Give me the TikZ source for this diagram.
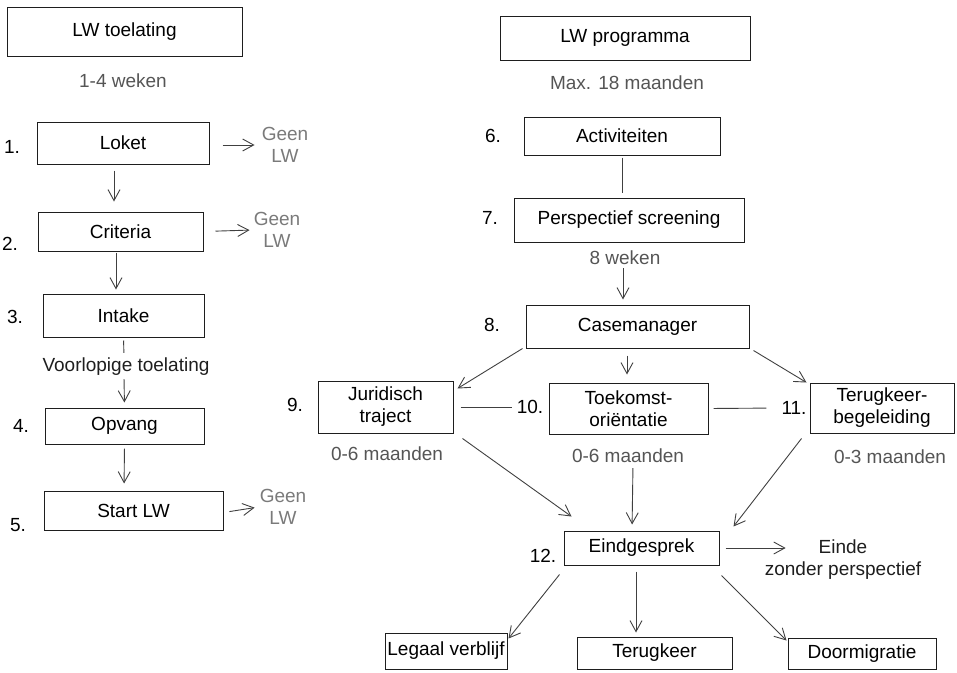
\documentclass[tikz,border=0pt]{standalone}
\usepackage{fontspec}
\setmainfont{Liberation Sans}
\usetikzlibrary{arrows.meta}
\usepackage{xcolor}
\definecolor{ink}{HTML}{1E1E1E}
\definecolor{inkgrey}{HTML}{555555}
\definecolor{lightgrey}{HTML}{7A7A7A}

\begin{document}
\begin{tikzpicture}[x=1pt, y=-1pt,
		font=\fontsize{19}{22}\selectfont,
		box/.style={rectangle, draw=ink, line width=1pt, inner sep=0pt, align=center},
		greytext/.style={text=inkgrey, align=center, inner sep=1pt},
		faint/.style={text=lightgrey, align=center, inner sep=1pt},
		plain/.style={text=ink, align=center, inner sep=1pt},
		stepnum/.style={text=black, inner sep=1pt},
		arr/.style={draw=ink!85, line width=0.9pt, -{Straight Barb[length=11pt, width=12pt]}},
		tie/.style={draw=ink!85, line width=0.9pt}]
			\useasboundingbox (0,0) rectangle (957,672);
			% LW toelating
			\begin{scope}[every node/.style={box}]
				\node[minimum width=235, minimum height=49] (toel) at (124.5,31.5) {LW toelating};
				\node[minimum width=172, minimum height=42] (loket) at (123,143) {Loket};
				\node[minimum width=165, minimum height=39] (crit) at (120.5,231.5) {Criteria};
				\node[minimum width=161, minimum height=43] (intake) at (123.5,315.5) {Intake};
				\node[minimum width=159, minimum height=36] (opvang) at (124.5,426) {Opvang};
				\node[minimum width=179, minimum height=39] (start) at (133.5,510.5) {Start LW};
			\end{scope}
			\node[greytext] (weken14) at (123,81) {1-4 weken};
			\node[faint] (geen1) at (285,145) {Geen\\LW};
			\node[faint] (geen2) at (277,230) {Geen\\LW};
			\node[faint] (geen3) at (283,507) {Geen\\LW};
			\node[plain] (voorl) at (126,367) {Voorlopige toelating};
			\node[stepnum] (n1) at (12,147) {1.};
			\node[stepnum] (n2) at (10,244) {2.};
			\node[stepnum] (n3) at (15,317) {3.};
			\node[stepnum] (n4) at (21,426) {4.};
			\node[stepnum] (n5) at (18,525) {5.};
			% LW programma
			\begin{scope}[every node/.style={box}]
				\node[minimum width=250, minimum height=44] (prog) at (625,38) {LW programma};
				\node[minimum width=196, minimum height=38] (activ) at (622,136) {Activiteiten};
				\node[minimum width=230, minimum height=44] (persp) at (629,220) {Perspectief screening};
				\node[minimum width=223, minimum height=43] (case) at (637.5,326.5) {Casemanager};
				\node[minimum width=135, minimum height=52] (jur) at (385.5,407) {Juridisch\\traject};
				\node[minimum width=159, minimum height=51] (toek) at (628.5,408.5) {Toekomst-\\oriëntatie};
				\node[minimum width=144, minimum height=50] (terb) at (882,408) {Terugkeer-\\begeleiding};
				\node[minimum width=155, minimum height=34] (eind) at (641.5,548) {Eindgesprek};
				\node[minimum width=122, minimum height=36] (legaal) at (446,651) {Legaal verblijf};
				\node[minimum width=155, minimum height=32] (terug) at (654.5,653) {Terugkeer};
				\node[minimum width=148, minimum height=31] (doorm) at (862,653.5) {Doormigratie};
			\end{scope}
			\node[greytext] (max18) at (627,83) {Max. 18 maanden};
			\node[greytext] (weken8) at (625,258) {8 weken};
			\node[greytext] (m06a) at (387,454) {0-6 maanden};
			\node[greytext] (m06b) at (628,456) {0-6 maanden};
			\node[greytext] (m03) at (890,457) {0-3 maanden};
			\node[plain] (einde) at (843,560) {Einde\\zonder perspectief};
			\node[stepnum] (n6) at (493,136) {6.};
			\node[stepnum] (n7) at (490,218) {7.};
			\node[stepnum] (n8) at (492,325) {8.};
			\node[stepnum] (n9) at (295,405) {9.};
			\node[stepnum] (n10) at (530,407) {10.};
			\node[stepnum] (n11) at (794,408) {11.};
			\node[stepnum] (n12) at (543,556) {12.};
			% toelating
			\path ([yshift=-2pt]loket.east)
				edge[arr, shorten <=13pt, shorten >=6pt] (geen1.west);
			\path ([xshift=-9pt]loket.south)
				edge[arr, shorten <=6pt, shorten >=10pt] ([xshift=-6.5pt]crit.north);
			\path (crit.east)
				edge[arr, shorten <=12pt, shorten >=3pt] (geen2.west);
			\path ([xshift=-4.5pt]crit.south)
				edge[arr, shorten <=1pt, shorten >=4pt] ([xshift=-7.5pt]intake.north);
			\path (intake.south)
				edge[tie, shorten <=3pt, shorten >=4pt] ([xshift=-2pt]voorl.north);
			\path ([xshift=-2pt]voorl.south)
				edge[arr, shorten <=2pt, shorten >=5pt] (opvang.north);
			\path (opvang.south)
				edge[arr, shorten <=4pt, shorten >=7pt] ([xshift=-9.5pt]start.north);
			\path ([yshift=-2pt]start.east)
				edge[arr, shorten <=6pt, shorten >=4pt] (geen3.west);
			% programma
			\path (activ.south)
				edge[tie, shorten <=2pt, shorten >=5pt] ([xshift=-7pt]persp.north);
			\path ([xshift=-2pt]weken8.south)
				edge[arr, shorten <=2pt, shorten >=5pt] ([xshift=-14.5pt]case.north);
			\path ([xshift=-3pt]case.south west)
				edge[arr] ([shift={(4pt,-8pt)}]jur.north east);
			\path ([xshift=-10.5pt]case.south)
				edge[arr, shorten <=7pt, shorten >=8pt] ([xshift=-1.5pt]toek.north);
			\path ([shift={(4pt,-2pt)}]case.south east)
				edge[arr] ([shift={(-3pt,0pt)}]terb.north west);
			\path (jur.east)
				edge[tie, shorten <=7pt, shorten >=4pt] (n10.west);
			\path (toek.east)
				edge[tie, shorten <=5pt, shorten >=14pt] (n11.west);
			\path ([shift={(9pt,-5pt)}]jur.south east)
				edge[arr] ([shift={(8pt,14pt)}]eind.north west);
			\path ([xshift=5pt]m06b.south)
				edge[arr, shorten <=4pt, shorten >=6pt] ([xshift=-9.5pt]eind.north);
			\path ([shift={(-8pt,-5pt)}]terb.south west)
				edge[arr] ([shift={(14pt,4pt)}]eind.north east);
			\path ([xshift=6pt]eind.east)
				edge[arr, shorten >=-22pt] (eind.east -| einde.west);
			\path ([shift={(-4pt,-9pt)}]eind.south west)
				edge[arr] ([shift={(1pt,-6pt)}]legaal.north east);
			\path ([xshift=-5.5pt]eind.south)
				edge[arr, shorten <=6pt, shorten >=4pt] ([xshift=-18.5pt]terug.north);
			\path ([shift={(2pt,-10pt)}]eind.south east)
				edge[arr] ([shift={(-1pt,-3pt)}]doorm.north west);
		\end{tikzpicture}
\end{document}
